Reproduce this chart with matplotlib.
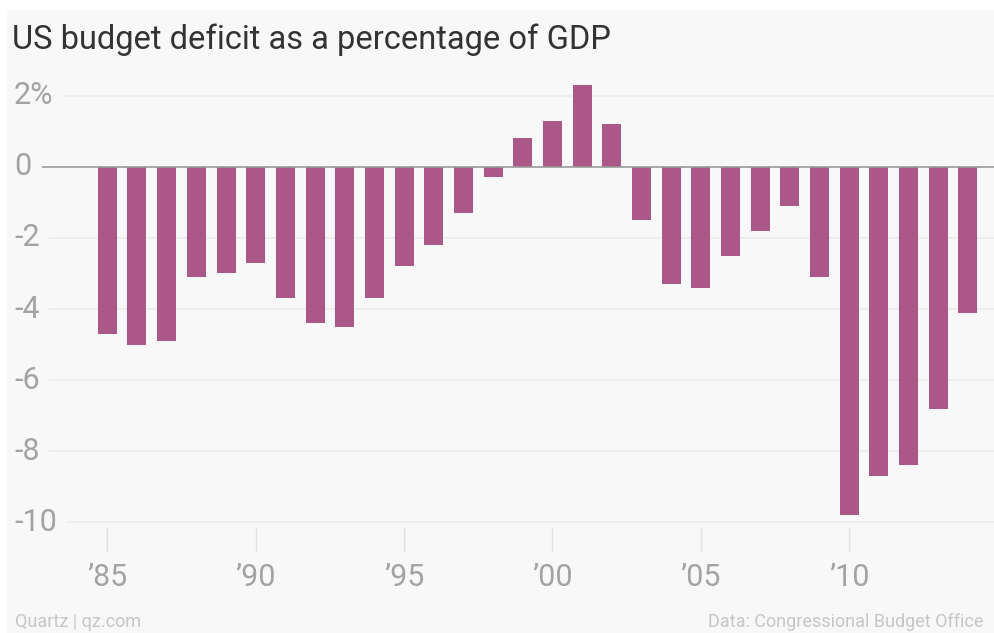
import matplotlib.pyplot as plt
from matplotlib.patches import Rectangle

# Federal budget balance, % of GDP (negative = deficit)
years = list(range(1985, 2015))
balance = [-4.7, -5.0, -4.9, -3.1, -3.0, -2.7, -3.7, -4.4, -4.5, -3.7,
           -2.8, -2.2, -1.3, -0.3, 0.8, 1.3, 2.3, 1.2, -1.5, -3.3,
           -3.4, -2.5, -1.8, -1.1, -3.1, -9.8, -8.7, -8.4, -6.8, -4.1]
y_ticks = [2, 0, -2, -4, -6, -8, -10]
y_labels = ["2%", "0", "-2", "-4", "-6", "-8", "-10"]
x_ticks = [1985, 1990, 1995, 2000, 2005, 2010]
x_labels = ["\u201985", "\u201990", "\u201995", "\u201900", "\u201905", "\u201910"]

W, H = 995, 633
plt.rcParams["font.family"] = ["Roboto", "DejaVu Sans"]

fig = plt.figure(figsize=(W / 100, H / 100), dpi=100)
fig.patch.set_facecolor("white")
fig.patches.append(Rectangle((7 / W, 0), 1, 1 - 10 / H, transform=fig.transFigure,
                             facecolor="#f8f8f8", edgecolor="none", zorder=-5))

# axes box in pixel terms
left, right, top, bottom = 42, 995, 80, 527
ax = fig.add_axes([left / W, 1 - bottom / H, (right - left) / W, (bottom - top) / H])
ax.set_facecolor("none")
ax.set_zorder(2)

ax.bar(years, balance, width=0.64, color="#ab5787", zorder=3)

ax.set_xlim(1982.80, 2014.91)
ax.set_ylim(-10.13, 2.44)

for s in ax.spines.values():
    s.set_visible(False)

ax.set_yticks([])
ax.set_xticks(x_ticks)
ax.set_xticklabels(x_labels, fontsize=22, color="#a3a3a3")
ax.tick_params(axis="x", length=18, width=1, color="#e2e2e2", pad=8)

# y labels sit at the far left, gridlines start just after each label
fig.canvas.draw()
renderer = fig.canvas.get_renderer()
for val, lab in zip(y_ticks, y_labels):
    _, ypix = ax.transData.transform((0, val))
    t = fig.text(14 / W, ypix / H, lab, fontsize=22, color="#a3a3a3",
                 ha="left", va="center")
    bb = t.get_window_extent(renderer)
    x0 = ax.transAxes.inverted().transform((bb.x1 + 10, 0))[0]
    if val == 0:
        ax.axhline(0, xmin=max(x0, 0), xmax=1, color="#9a9a9a", lw=1.2, zorder=4)
    else:
        ax.axhline(val, xmin=max(x0, 0), xmax=1, color="#ececec", lw=1.2, zorder=1)

fig.text(12 / W, 1 - 40 / H, "US budget deficit as a percentage of GDP",
         fontsize=23.5, color="#333333", ha="left", va="center")
fig.text(15 / W, 1 - 622 / H, "Quartz | qz.com", fontsize=13, color="#c6c6c6",
         ha="left", va="center")
fig.text(708 / W, 1 - 622 / H, "Data: Congressional Budget Office", fontsize=13,
         color="#c6c6c6", ha="left", va="center")

fig.savefig("out.png", dpi=100)
